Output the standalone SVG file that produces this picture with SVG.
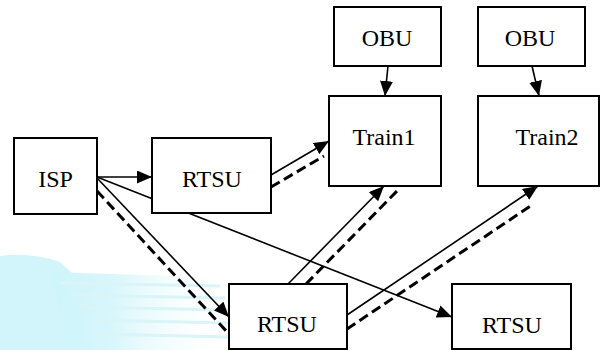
<svg xmlns="http://www.w3.org/2000/svg" width="600" height="350" viewBox="0 0 600 350">
<defs>
<style>
.box{fill:#fff;stroke:#000;stroke-width:2}
.lbl{font-family:'Liberation Serif','DejaVu Serif',serif;font-size:24px;fill:#000;text-anchor:middle}
.s{stroke:#000;stroke-width:1.6;fill:none}
.d{stroke:#000;stroke-width:3;fill:none;stroke-dasharray:10 5}
</style>
<marker id="ah" viewBox="0 0 15 13" refX="15" refY="6.5" markerWidth="15" markerHeight="13" markerUnits="userSpaceOnUse" orient="auto">
<path d="M0,0 L15,6.5 L0,13 Z" fill="#000"/>
</marker>
<linearGradient id="wm" x1="0" y1="0" x2="1" y2="0">
<stop offset="0" stop-color="#c8f4fa"/>
<stop offset="0.35" stop-color="#d4f6fb"/>
<stop offset="1" stop-color="#ffffff" stop-opacity="0"/>
</linearGradient>
</defs>
<rect width="600" height="350" fill="#fff"/>
<g id="watermark" opacity="0.9">
<path d="M0,256 Q30,252 60,262 L90,290 L110,350 L0,350 Z" fill="#cdf5fa"/>
<path d="M50,272 L230,278 L230,350 L70,350 Z" fill="url(#wm)"/>
<g stroke="#d6f3f8" stroke-width="3">
<line x1="60" y1="283" x2="220" y2="286"/>
<line x1="70" y1="295" x2="225" y2="298"/>
<line x1="80" y1="307" x2="228" y2="310"/>
<line x1="90" y1="320" x2="228" y2="323"/>
<line x1="95" y1="334" x2="228" y2="337"/>
</g>
</g>
<g id="connectors">
<line class="s" x1="388" y1="66" x2="385" y2="96" marker-end="url(#ah)"/>
<line class="s" x1="532" y1="66" x2="539" y2="96" marker-end="url(#ah)"/>
<line class="s" x1="97" y1="177" x2="152" y2="177" marker-end="url(#ah)"/>
<line class="s" x1="97" y1="177" x2="452" y2="317" marker-end="url(#ah)"/>
<line class="s" x1="97" y1="178" x2="229" y2="317" marker-end="url(#ah)"/>
<line class="d" x1="97" y1="191" x2="229" y2="334"/>
<line class="s" x1="271" y1="175" x2="329" y2="141" marker-end="url(#ah)"/>
<line class="d" x1="271" y1="187" x2="324" y2="156"/>
<line class="s" x1="288" y1="284" x2="384" y2="186" marker-end="url(#ah)"/>
<line class="d" x1="306" y1="284" x2="397" y2="191"/>
<line class="s" x1="347" y1="315" x2="538" y2="186" marker-end="url(#ah)"/>
<line class="d" x1="347" y1="329" x2="532" y2="205"/>
</g>
<g id="isp"><rect class="box" x="14" y="138" width="83" height="76"/><text class="lbl" x="55.5" y="187">ISP</text></g>
<g id="rtsu1"><rect class="box" x="152" y="138" width="119" height="75"/><text class="lbl" x="212" y="187">RTSU</text></g>
<g id="obu1"><rect class="box" x="334" y="7" width="107" height="59"/><text class="lbl" x="387" y="46">OBU</text></g>
<g id="obu2"><rect class="box" x="478" y="7" width="107" height="59"/><text class="lbl" x="530" y="46">OBU</text></g>
<g id="train1"><rect class="box" x="329" y="96" width="112" height="90"/><text class="lbl" x="384" y="145">Train1</text></g>
<g id="train2"><rect class="box" x="478" y="96" width="121" height="90"/><text class="lbl" x="547" y="145">Train2</text></g>
<g id="rtsu2"><rect class="box" x="229" y="284" width="118" height="65"/><text class="lbl" x="287" y="332">RTSU</text></g>
<g id="rtsu3"><rect class="box" x="452" y="284" width="119" height="65"/><text class="lbl" x="512" y="333">RTSU</text></g>
</svg>
